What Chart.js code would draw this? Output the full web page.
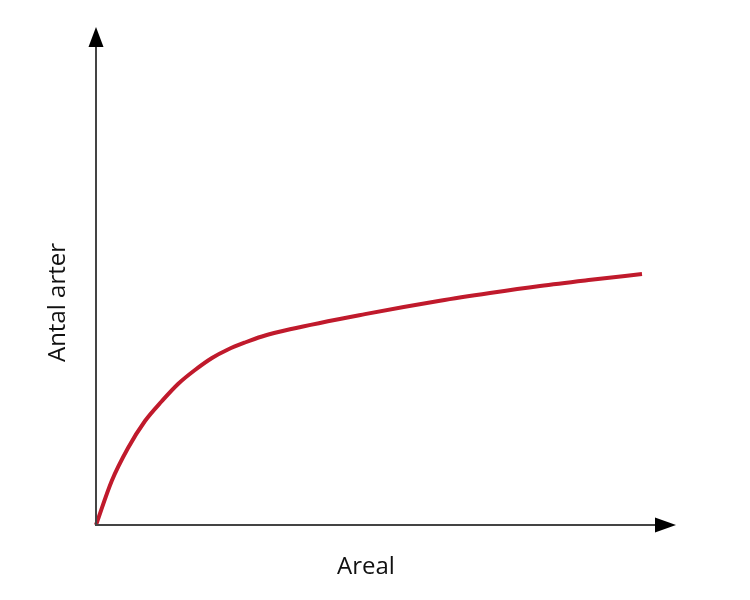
<!DOCTYPE html>
<html>
<head>
<meta charset="utf-8">
<script src="https://cdn.jsdelivr.net/npm/chart.js@4/dist/chart.umd.min.js"></script>
<style>
  html, body { margin: 0; padding: 0; background: #fff; }
  #wrap { width: 750px; height: 600px; }
</style>
</head>
<body>
<div id="wrap"><canvas id="c"></canvas></div>
<script>
// === Data (arbitrary units) ===
const areal      = [0, 2.91, 5.93, 9.07, 12.22, 15.19, 18.33, 21.48, 24.44, 27.59, 30.74, 35.93, 49.81, 63.70, 72.96, 82.22, 91.67, 101.11];
const antalArter = [0, 9.89, 17.30, 23.37, 27.87, 31.69, 34.83, 37.53, 39.44, 41.01, 42.36, 43.98, 47.39, 50.40, 52.13, 53.71, 55.10, 56.40];
const xTitle = 'Areal';
const yTitle = 'Antal arter';

const points = areal.map((x, i) => ({x, y: antalArter[i]}));

// axis lines with arrow heads
const arrowAxes = {
  id: 'arrowAxes',
  afterDraw(chart){
    const {ctx, chartArea, scales} = chart;
    const x0 = scales.x.getPixelForValue(0);
    const y0 = scales.y.getPixelForValue(0);
    const yTip = chartArea.top - 53;
    const xTip = chartArea.right + 40;
    ctx.save();
    ctx.strokeStyle = '#444';
    ctx.lineWidth = 2;
    ctx.beginPath();
    ctx.moveTo(x0, y0 + 1); ctx.lineTo(x0, yTip + 10);
    ctx.moveTo(x0 - 1, y0); ctx.lineTo(xTip - 10, y0);
    ctx.stroke();
    ctx.fillStyle = '#000';
    ctx.beginPath();
    ctx.moveTo(x0, yTip); ctx.lineTo(x0 - 7.5, yTip + 20); ctx.lineTo(x0 + 7.5, yTip + 20);
    ctx.closePath(); ctx.fill();
    ctx.beginPath();
    ctx.moveTo(xTip, y0); ctx.lineTo(xTip - 21, y0 - 7.5); ctx.lineTo(xTip - 21, y0 + 7.5);
    ctx.closePath(); ctx.fill();
    ctx.restore();
  }
};

new Chart(document.getElementById('c'), {
  type: 'scatter',
  data: {
    datasets: [{
      data: points,
      showLine: true,
      borderColor: '#c01a2c',
      borderWidth: 4,
      pointRadius: 0,
      cubicInterpolationMode: 'monotone',
      clip: false
    }]
  },
  options: {
    responsive: true,
    maintainAspectRatio: false,
    animation: false,
    layout: {padding: {left: 40, right: 114, top: 80, bottom: 14}},
    plugins: {legend: {display: false}, tooltip: {enabled: false}},
    scales: {
      x: {
        type: 'linear', min: 0, max: 100,
        grid: {display: false, drawTicks: false},
        border: {display: false},
        ticks: {display: false},
        title: {display: true, text: xTitle, color: '#111', font: {family: 'Open Sans', size: 24}},
        afterFit(s){ s.height = 61; }
      },
      y: {
        type: 'linear', min: 0, max: 100,
        grid: {display: false, drawTicks: false},
        border: {display: false},
        ticks: {display: false},
        title: {display: true, text: yTitle, color: '#111', font: {family: 'Open Sans', size: 24}},
        afterFit(s){ s.width = 56; }
      }
    }
  },
  plugins: [arrowAxes]
});
</script>
</body>
</html>
